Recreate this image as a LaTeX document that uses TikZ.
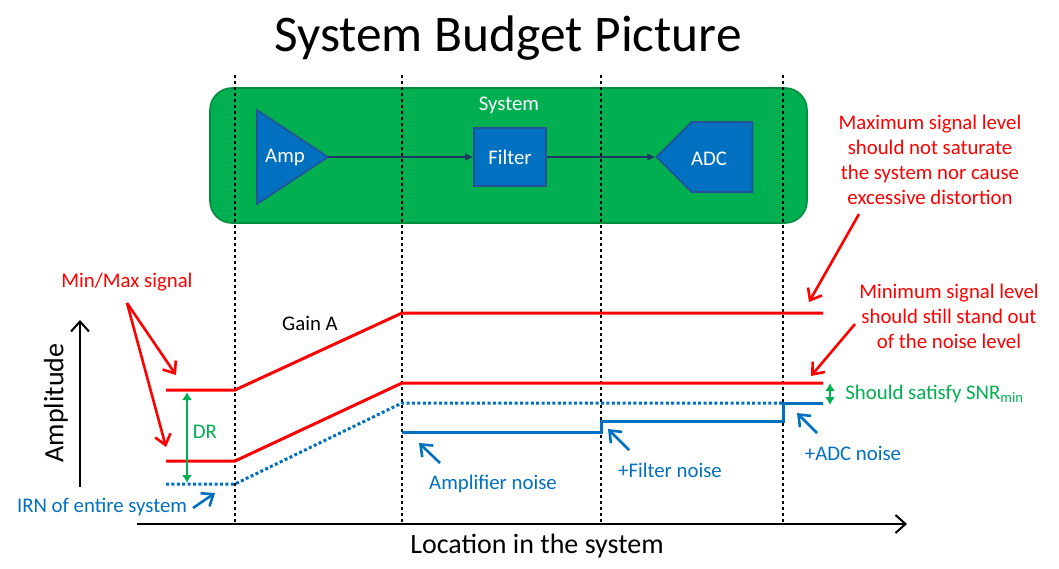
\documentclass[tikz,border=0pt]{standalone}
\usepackage{fontspec}
\setmainfont{Carlito}
\usetikzlibrary{arrows.meta,shapes.symbols}
\definecolor{sysgreen}{RGB}{0,176,80}
\definecolor{sysgreenline}{RGB}{0,140,60}
\definecolor{blockblue}{RGB}{0,112,192}
\definecolor{blockedge}{RGB}{40,80,150}
\definecolor{flowblue}{RGB}{31,56,100}
\definecolor{sigred}{RGB}{255,0,0}
\definecolor{noiseblue}{RGB}{0,112,192}
\definecolor{labelgreen}{RGB}{0,176,80}

\tikzset{
  divider/.style={black, line width=1.3pt, dash pattern=on 1.5pt off 1.5pt},
  sigline/.style={sigred, line width=1.5pt},
  noiseline/.style={noiseblue, line width=1.5pt},
  irnline/.style={noiseblue, line width=1.5pt, dash pattern=on 1.5pt off 1.2pt},
  redcallout/.style={sigred, line width=1.3pt, -{Straight Barb[length=5pt,width=8pt]}},
  bluecallout/.style={noiseblue, line width=1.3pt, -{Straight Barb[length=5pt,width=8pt]}},
  axis/.style={black, line width=1pt, -{Straight Barb[length=5pt,width=9pt]}},
  spanarrow/.style={labelgreen, line width=1pt, {Latex[length=4pt,width=5pt]}-{Latex[length=4pt,width=5pt]}},
  flow/.style={flowblue, line width=0.8pt, -{Latex[length=4pt,width=4pt]}},
  block/.style={fill=blockblue, draw=blockedge, line width=0.8pt},
  whitetext/.style={text=white, font=\fontsize{10.4}{12}\selectfont},
  note/.style={font=\fontsize{10.4}{12.5}\selectfont, align=center, inner sep=0pt},
  biglabel/.style={font=\fontsize{14}{17}\selectfont, inner sep=0pt},
}

\begin{document}
\begin{tikzpicture}[x=0.5pt, y=-0.5pt]
\useasboundingbox (0,0) rectangle (1059,568);

% title
\node[font=\fontsize{25.7}{30}\selectfont] (title) at (508,38) {System Budget Picture};

% system block
\node[draw=sysgreenline, fill=sysgreen, line width=0.8pt, rounded corners=11pt,
      minimum width=298.5pt, minimum height=67.5pt] (sys) at (508.5,155.5) {};
\node[whitetext] (systxt) at (509,105) {System};
\draw[block] (257,110) -- (328,157) -- (257,204) -- cycle;
\coordinate (amptip) at (328,157);
\node[whitetext] (amp) at (285,157) {Amp};
\node[block, whitetext, minimum width=36pt, minimum height=29pt] (filter) at (510,157) {Filter};
\node[block, signal, signal to=west, minimum width=48pt, minimum height=35pt] (adc) at (722,157) {};
\node[whitetext] (adctxt) at (709,159) {ADC};
\draw[flow] (amptip) -- (filter.west);
\draw[flow] (filter.east) -- (adc.west);

% stage boundaries
\foreach \xx/\nm in {235/a,402/b,601/c,783/d} {
  \coordinate (top\nm) at (\xx,75);
  \coordinate (bot\nm) at (\xx,524);
  \draw[divider] (top\nm) -- (bot\nm);
}

% signal levels
\coordinate (maxL) at (166,390);
\coordinate (maxA) at (235,390);
\coordinate (maxB) at (402,313);
\coordinate (maxE) at (823,313);
\coordinate (minL) at (166,461);
\coordinate (minA) at (235,461);
\coordinate (minB) at (402,383);
\coordinate (minE) at (823,383);
\draw[sigline] (maxL) -- (maxA) -- (maxB) -- (maxE);
\draw[sigline] (minL) -- (minA) -- (minB) -- (minE);

% noise levels
\coordinate (irnL) at (166,484);
\coordinate (irnA) at (235,484);
\coordinate (irnB) at (402,403);
\coordinate (irnD) at (783,403);
\draw[irnline] (irnL) -- (irnA) -- (irnB) -- (irnD);
\coordinate (n1) at (402,432);
\coordinate (n2) at (601,432);
\coordinate (n3) at (601,421);
\coordinate (n4) at (783,421);
\coordinate (n5) at (783,403);
\coordinate (n6) at (823,403);
\draw[noiseline] (n1) -- (n2) -- (n3) -- (n4) -- (n5) -- (n6);

% axes
\coordinate (yaxS) at (80,487);
\coordinate (yaxE) at (80,320);
\coordinate (xaxS) at (137,524);
\coordinate (xaxE) at (907,524);
\draw[axis] (yaxS) -- (yaxE);
\draw[axis] (xaxS) -- (xaxE);
\node[biglabel, rotate=90] (amplab) at (56,403) {Amplitude};
\node[biglabel] (loclab) at (537,546) {Location in the system};

% dynamic range and SNR
\coordinate (drtop) at (187,392);
\coordinate (drbot) at (187,483);
\draw[spanarrow] (drtop) -- (drbot);
\node[note, text=labelgreen] (dr) at (205,432) {DR};
\coordinate (snrtop) at (830,383);
\coordinate (snrbot) at (830,405);
\draw[spanarrow] (snrtop) -- (snrbot);
\node[note, text=labelgreen, anchor=west] (snr) at (845,394) {Should satisfy SNR\textsubscript{min}};

\node[note] (gain) at (310,323) {Gain A};

% red callouts
\node[note, text=sigred] (mmlab) at (127,282) {Min/Max signal};
\coordinate (mmsrc) at (127,303);
\coordinate (mmhi) at (176,375);
\coordinate (mmlo) at (166,447);
\draw[redcallout] (mmsrc) -- (mmhi);
\draw[redcallout] (mmsrc) -- (mmlo);
\node[note, text=sigred] (maxnote) at (930,160) {Maximum signal level\\should not saturate\\the system nor cause\\excessive distortion};
\coordinate (maxsrc) at (859,214);
\coordinate (maxdst) at (809,302);
\draw[redcallout] (maxsrc) -- (maxdst);
\node[note, text=sigred] (minnote) at (949,316) {Minimum signal level\\should still stand out\\of the noise level};
\coordinate (minsrc) at (855,324);
\coordinate (mindst) at (811,376);
\draw[redcallout] (minsrc) -- (mindst);

% blue callouts
\node[note, text=noiseblue] (irnlab) at (102,507) {IRN of entire system};
\coordinate (irnsrc) at (193,508);
\coordinate (irndst) at (215,493);
\draw[bluecallout] (irnsrc) -- (irndst);
\node[note, text=noiseblue] (amplab2) at (493,484) {Amplifier noise};
\coordinate (ampsrc) at (440,463);
\coordinate (ampdst) at (419,443);
\draw[bluecallout] (ampsrc) -- (ampdst);
\node[note, text=noiseblue] (filtlab) at (670,470) {+Filter noise};
\coordinate (filtsrc) at (629,450);
\coordinate (filtdst) at (608,429);
\draw[bluecallout] (filtsrc) -- (filtdst);
\node[note, text=noiseblue] (adclab) at (853,453) {+ADC noise};
\coordinate (adcsrc) at (817,433);
\coordinate (adcdst) at (797,413);
\draw[bluecallout] (adcsrc) -- (adcdst);
\end{tikzpicture}
\end{document}
